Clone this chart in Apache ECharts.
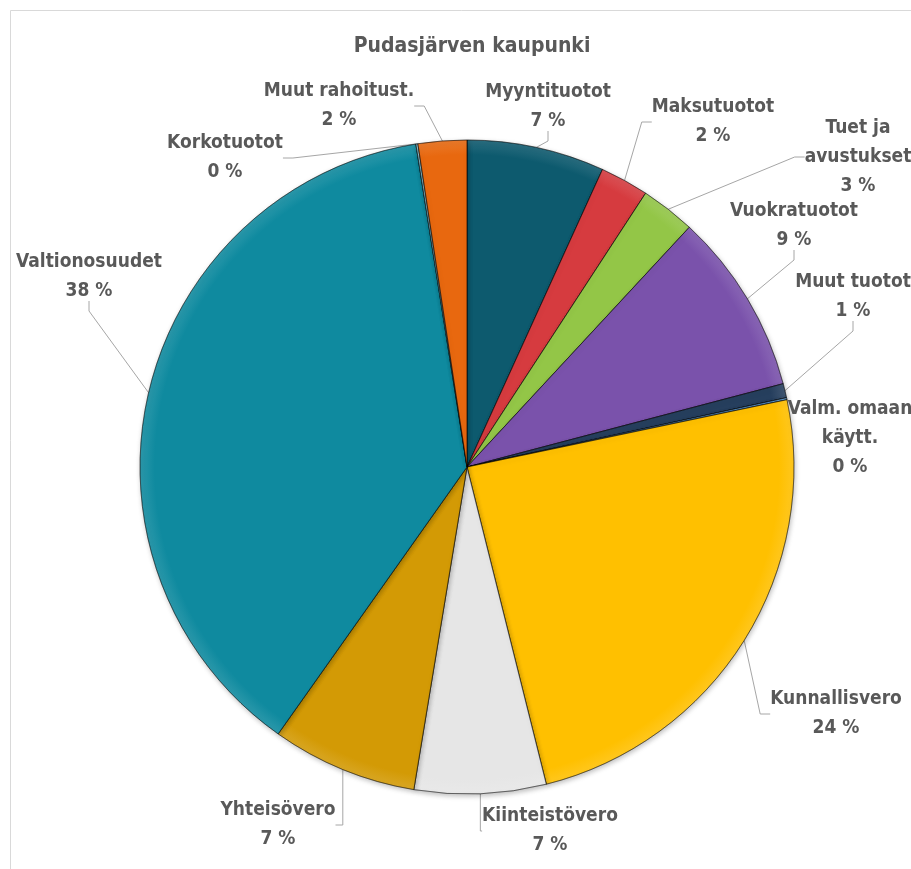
<!DOCTYPE html>
<html>
<head>
<meta charset="utf-8">
<script src="https://cdn.jsdelivr.net/npm/echarts@6/dist/echarts.min.js"></script>
<style>html,body{margin:0;padding:0;background:#fff}#c{width:911px;height:869px}</style>
</head>
<body>
<div id="c"></div>
<script>
var titleText = 'Pudasjärven kaupunki';
var categories = ['Myyntituotot','Maksutuotot','Tuet ja\navustukset','Vuokratuotot','Muut tuotot','Valm. omaan\nkäytt.','Kunnallisvero','Kiinteistövero','Yhteisövero','Valtionosuudet','Korkotuotot','Muut rahoitust.'];
var values = [6.8, 2.4, 2.7, 9.0, 0.7, 0.1, 24.4, 6.5, 7.2, 37.7, 0.1, 2.4];
var colors = ['#0d5a6e','#d63b3f','#93c647','#7a52ab','#263f5e','#5b9bd5','#ffc000','#e6e6e6','#d39a05','#0f8a9f','#8fc9d9','#e8680f'];

// label placement (layout/style only, centre of each label block in px)
var labelCenters = [[548,107],[713,122],[858,157],[794,226],[853,297],[850,438],[836,714],[550,831],[278,825],[89,277],[225,158],[339,106]];

var total = values.reduce(function(a,b){return a+b;},0);
var PIE_C = [467,467], PIE_R = 327;
var data = categories.map(function(n,i){
  var c = colors[i];
  return {name:n, value:values[i], itemStyle:{color:{
    type:'radial', x:PIE_C[0], y:PIE_C[1], r:PIE_R, global:true,
    colorStops:[{offset:0,color:c},{offset:0.955,color:c},{offset:1,color:echarts.color.lift(c,0.12)}]
  }}};
});
var FONT = "'Liberation Sans Narrow', 'DejaVu Sans Condensed', Lato, sans-serif";
var chart = echarts.init(document.getElementById('c'));
chart.setOption({
  backgroundColor:'#fff',
  title:{text:titleText,left:467,textAlign:'center',top:31,textStyle:{fontFamily:FONT,fontSize:21,fontWeight:'bold',color:'#595959'}},
  graphic:[{type:'rect',left:8,top:8,shape:{width:1000,height:900},style:{fill:'none',stroke:'#d9d9d9',lineWidth:1},silent:true}],
  series:[{
    type:'pie',
    left:-533, top:-533, width:2000, height:2000,
    center:['50%','50%'],
    radius:PIE_R,
    startAngle:90,
    clockwise:true,
    avoidLabelOverlap:false,
    itemStyle:{borderColor:'rgba(0,0,0,0.35)',borderWidth:1,shadowBlur:5,shadowOffsetX:1,shadowOffsetY:2,shadowColor:'rgba(0,0,0,0.25)'},
    label:{
      show:true,
      formatter:function(p){
        var lines = p.name.split('\n').map(function(l){return '{t|'+l+'}';});
        lines.push('{t|'+Math.round(p.value/total*100)+' %}');
        return lines.join('\n');
      },
      rich:{t:{fontFamily:FONT,fontSize:19,fontWeight:'bold',color:'#595959',align:'center',lineHeight:29}}
    },
    labelLine:{show:true,length:10,length2:10,lineStyle:{color:'#a6a6a6',width:1}},
    labelLayout:function(params){
      var c = labelCenters[params.dataIndex];
      return {x:c[0], y:c[1], align:'center', verticalAlign:'middle'};
    },
    emphasis:{scale:false},
    data:data
  }]
});
</script>
</body>
</html>
